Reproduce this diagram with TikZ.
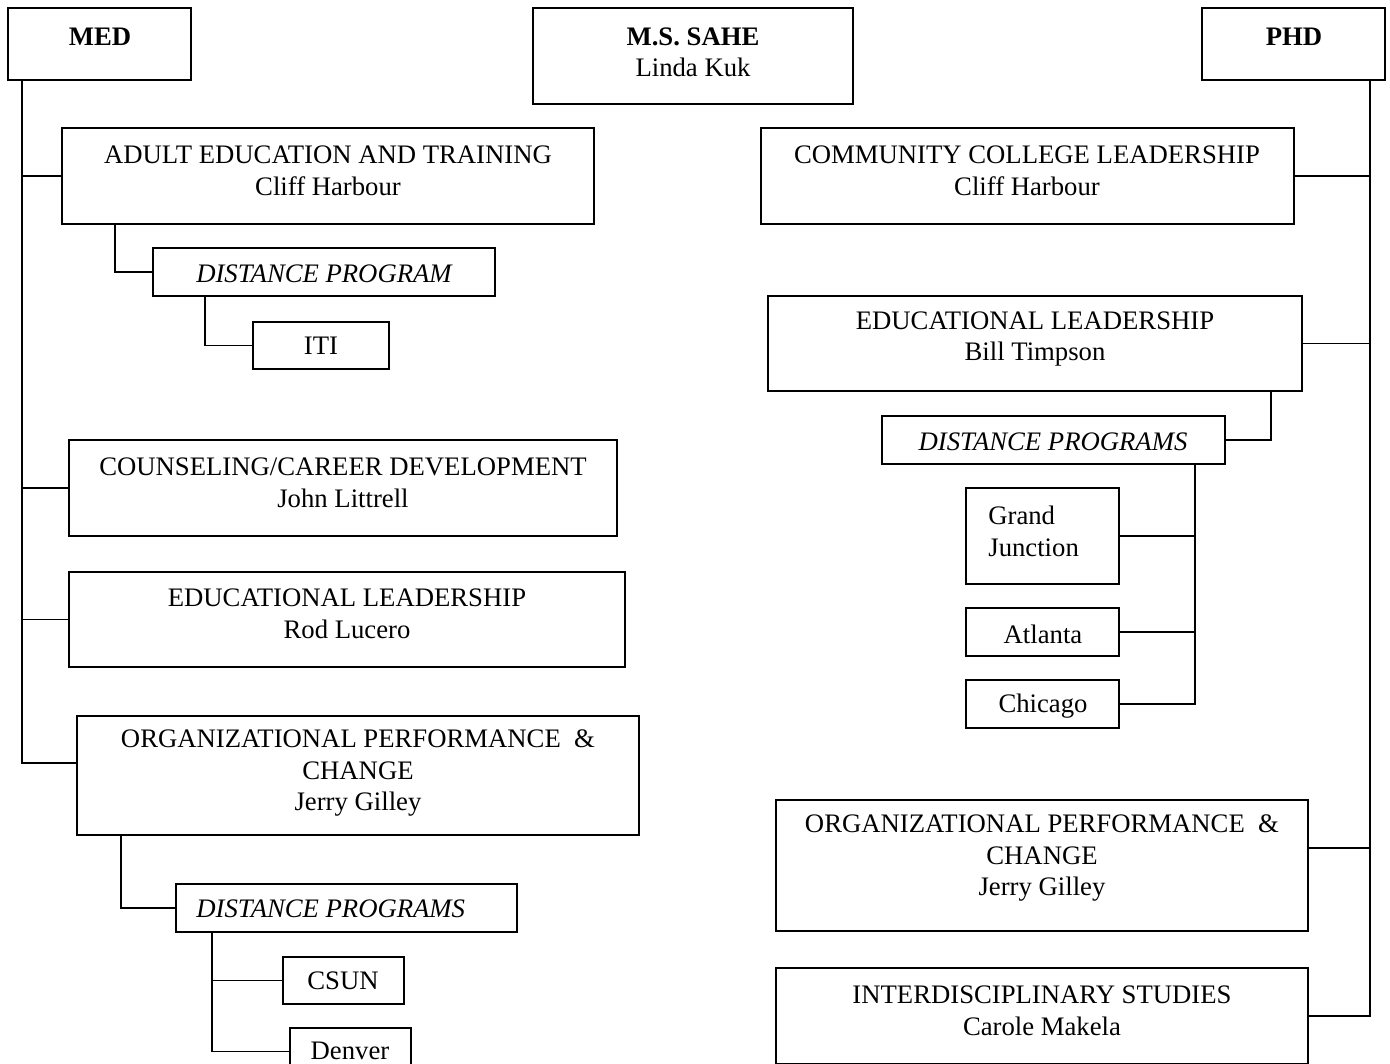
\documentclass[tikz,border=0pt]{standalone}
\usepackage{fontspec}
\setmainfont{Liberation Serif}
\usetikzlibrary{fit,calc}
\begin{document}
\begin{tikzpicture}[x=0.02cm,y=-0.02cm,
  box/.style={draw, inner sep=0pt, line width=1pt},
  txt/.style={inner sep=0pt, align=center, font=\fontsize{15.2}{18.2}\selectfont},
  btxt/.style={txt, font=\fontsize{15.2}{18.2}\selectfont\bfseries},
  itxt/.style={txt, font=\fontsize{15.2}{18.2}\selectfont\itshape},
  conn/.style={draw, line width=1pt}]
\useasboundingbox (0,0) rectangle (1390,1064);
\clip (0,0) rectangle (1390,1064);

% top boxes
\node[box, fit={(8,8) (191,80)}] (med) {};
\node[btxt] (medt) at (100,37) {MED};
\node[box, fit={(533,8) (853,104)}] (sahe) {};
\node[btxt] (sahet) at (693,37) {M.S. SAHE};
\node[txt] (sahen) at (693,67) {Linda Kuk};
\node[box, fit={(1202,8) (1385,80)}] (phd) {};
\node[btxt] (phdt) at (1294,37) {PHD};

% left column
\node[box, fit={(62,128) (594,224)}] (adult) {};
\node[txt] (adultt) at (328,171) {ADULT EDUCATION AND TRAINING\\Cliff Harbour};
\node[box, fit={(153,248) (495,296)}] (dp1) {};
\node[itxt] (dp1t) at (324,274) {DISTANCE PROGRAM};
\node[box, fit={(253,322) (389,369)}] (iti) {};
\node[txt] (itit) at (321,346) {ITI};

\node[box, fit={(69,440) (617,536)}] (couns) {};
\node[txt] (counst) at (343,483) {COUNSELING/CAREER DEVELOPMENT\\John Littrell};
\node[box, fit={(69,572) (625,667)}] (edl) {};
\node[txt] (edlt) at (347,614) {EDUCATIONAL LEADERSHIP\\Rod Lucero};
\node[box, fit={(77,716) (639,835)}] (orgl) {};
\node[txt] (orglt) at (358,773) {ORGANIZATIONAL PERFORMANCE\ \ \&\\CHANGE\\Jerry Gilley};
\node[box, fit={(176,884) (517,932)}] (dp2) {};
\node[itxt, anchor=west] (dp2t) at (196,909) {DISTANCE PROGRAMS};
\node[box, fit={(283,957) (404,1004)}] (csun) {};
\node[txt] (csunt) at (343,981) {CSUN};
\node[box, fit={(290,1028) (411,1075)}] (denver) {};
\node[txt] (denvert) at (350,1051) {Denver};

% right column
\node[box, fit={(761,128) (1294,224)}] (ccl) {};
\node[txt] (cclt) at (1027,171) {COMMUNITY COLLEGE LEADERSHIP\\Cliff Harbour};
\node[box, fit={(768,296) (1302,391)}] (edr) {};
\node[txt] (edrt) at (1035,339) {EDUCATIONAL LEADERSHIP\\Bill Timpson};
\node[box, fit={(882,416) (1225,464)}] (dp3) {};
\node[itxt] (dp3t) at (1053,442) {DISTANCE PROGRAMS};
\node[box, fit={(966,488) (1119,584)}] (gj) {};
\node[txt, anchor=west, align=left] (gjt) at (988,531) {Grand\\Junction};
\node[box, fit={(966,608) (1119,656)}] (atl) {};
\node[txt] (atlt) at (1043,634) {Atlanta};
\node[box, fit={(966,680) (1119,728)}] (chi) {};
\node[txt] (chit) at (1043,706) {Chicago};
\node[box, fit={(776,800) (1308,931)}] (orgr) {};
\node[txt] (orgrt) at (1042,858) {ORGANIZATIONAL PERFORMANCE\ \ \&\\CHANGE\\Jerry Gilley};
\node[box, fit={(776,968) (1308,1064)}] (inter) {};
\node[txt] (intert) at (1042,1011) {INTERDISCIPLINARY STUDIES\\Carole Makela};

% left connectors
\coordinate (Lt) at ($(med.south west)+(15,0)$);
\coordinate (Lend) at ($(orgl.west)+(0,-12.5)$);
\draw[conn] (Lt) |- (Lend);
\draw[conn] (Lt |- adult.west) -- (adult.west);
\draw[conn] (Lt |- couns.west) -- (couns.west);
\draw[conn] (Lt |- edl.west) -- (edl.west);
\draw[conn] ($(adult.south west)+(54,0)$) |- (dp1.west);
\draw[conn] ($(dp1.south west)+(53,0)$) |- (iti.west);
\draw[conn] ($(orgl.south west)+(45,0)$) |- (dp2.west);
\coordinate (d2) at ($(dp2.south west)+(37,0)$);
\draw[conn] (d2) |- (denver.west);
\draw[conn] (d2 |- csun.west) -- (csun.west);

% right connectors
\coordinate (Rt) at ($(phd.south east)+(-16,0)$);
\draw[conn] (Rt) |- (inter.east);
\draw[conn] (Rt |- ccl.east) -- (ccl.east);
\draw[conn] (Rt |- edr.east) -- (edr.east);
\coordinate (Rorg) at ($(orgr.east)+(0,-17.5)$);
\draw[conn] (Rt |- Rorg) -- (Rorg);
\draw[conn] ($(edr.south east)+(-32,0)$) |- (dp3.east);
\coordinate (d3) at ($(dp3.south east)+(-31,0)$);
\draw[conn] (d3) |- (chi.east);
\draw[conn] (d3 |- gj.east) -- (gj.east);
\draw[conn] (d3 |- atl.east) -- (atl.east);
\end{tikzpicture}
\end{document}
